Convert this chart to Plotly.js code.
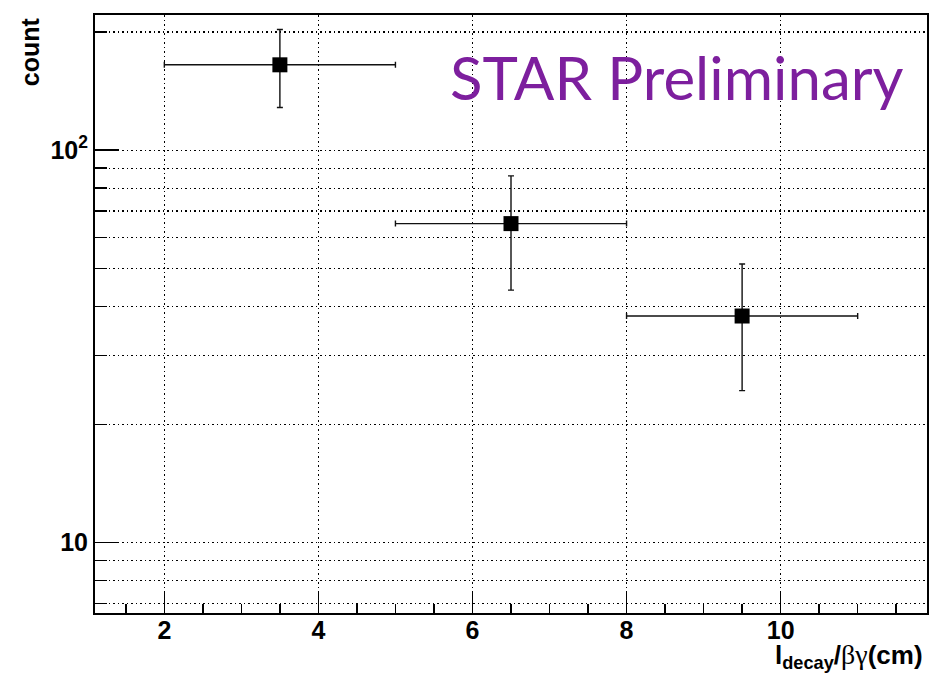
<!DOCTYPE html>
<html>
<head>
<meta charset="utf-8">
<script src="https://cdn.plot.ly/plotly-3.0.1.min.js"></script>
<style>html,body{margin:0;padding:0;background:#fff;}#chart{width:929px;height:675px;}</style>
</head>
<body>
<div id="chart"></div>
<script>
// Data
const binCenters = [3.5, 6.5, 9.5];
const binHalfWidth = [1.5, 1.5, 1.5];
const counts = [165, 65, 37.8];
const errUp = [38, 21, 13.5];
const errDown = [36.5, 21, 13.4];

const xTickVals = [2, 4, 6, 8, 10];
const xTickText = ["2", "4", "6", "8", "10"];
const xMinorVals = [1.5, 2.5, 3, 3.5, 4.5, 5, 5.5, 6.5, 7, 7.5, 8.5, 9, 9.5, 10.5, 11, 11.5];
const yTickVals = [10, 100];
const yTickText = ["10", "10<sup>2</sup>"];
const yMinorVals = [7, 8, 9, 20, 30, 40, 50, 60, 70, 80, 90, 200];

const trace = {
  x: binCenters,
  y: counts,
  type: 'scatter',
  mode: 'markers',
  marker: {symbol: 'square', size: 15, color: '#000'},
  error_x: {type: 'data', array: binHalfWidth, color: '#111', thickness: 1.4, width: 3},
  error_y: {type: 'data', symmetric: false, array: errUp, arrayminus: errDown, color: '#111', thickness: 1.4, width: 3},
  showlegend: false,
  hoverinfo: 'skip'
};

const tickFont = {family: 'Liberation Sans, Arial, sans-serif', size: 25, color: '#000', weight: 'bold'};
const dotDash = '1.5px,3px';

const layout = {
  width: 929, height: 675,
  margin: {l: 95, r: 2, t: 15, b: 62},
  paper_bgcolor: '#fff', plot_bgcolor: '#fff',
  xaxis: {
    range: [1.1, 11.9],
    tickmode: 'array', tickvals: xTickVals, ticktext: xTickText,
    ticks: 'inside', ticklen: 20, tickwidth: 1.5, tickcolor: '#000',
    tickfont: tickFont, ticklabelstandoff: -6,
    showgrid: true, gridcolor: '#000', griddash: dotDash, gridwidth: 1.2,
    minor: {tickmode: 'array', tickvals: xMinorVals, ticks: 'inside', ticklen: 9, tickwidth: 1.5, tickcolor: '#000', showgrid: false},
    showline: true, linecolor: '#000', linewidth: 2, mirror: true,
    zeroline: false
  },
  yaxis: {
    type: 'log',
    range: [Math.log10(6.62), Math.log10(221)],
    tickmode: 'array', tickvals: yTickVals, ticktext: yTickText,
    ticks: 'inside', ticklen: 24, tickwidth: 1.5, tickcolor: '#000',
    tickfont: tickFont,
    showgrid: true, gridcolor: '#000', griddash: dotDash, gridwidth: 1.2,
    minor: {tickmode: 'array', tickvals: yMinorVals, ticks: 'inside', ticklen: 12, tickwidth: 1.5, tickcolor: '#000',
            showgrid: true, gridcolor: '#000', griddash: dotDash, gridwidth: 1.2},
    showline: true, linecolor: '#000', linewidth: 2, mirror: true,
    zeroline: false
  },
  annotations: [
    {
      text: 'STAR Preliminary', xref: 'paper', yref: 'paper',
      x: 0.424, y: 0.896, xanchor: 'left', yanchor: 'middle', showarrow: false,
      font: {family: 'Lato, Open Sans, sans-serif', size: 60, color: '#7d1f9e'}
    },
    {
      text: '<b>count</b>', xref: 'paper', yref: 'paper',
      x: -0.078, y: 0.938, xanchor: 'center', yanchor: 'middle', showarrow: false, textangle: -90,
      font: {family: 'Liberation Sans, Arial, sans-serif', size: 25, color: '#000'}
    },
    {
      text: '<b>l<sub>decay</sub>/</b><span style="font-family:Liberation Serif;font-size:28px">βγ</span><b>(cm)</b>', xref: 'paper', yref: 'paper',
      x: 0.9976, y: -0.072, xanchor: 'right', yanchor: 'middle', showarrow: false,
      font: {family: 'Liberation Sans, Arial, sans-serif', size: 26, color: '#000'}
    }
  ]
};

Plotly.newPlot('chart', [trace], layout, {displayModeBar: false, staticPlot: true});
</script>
</body>
</html>
